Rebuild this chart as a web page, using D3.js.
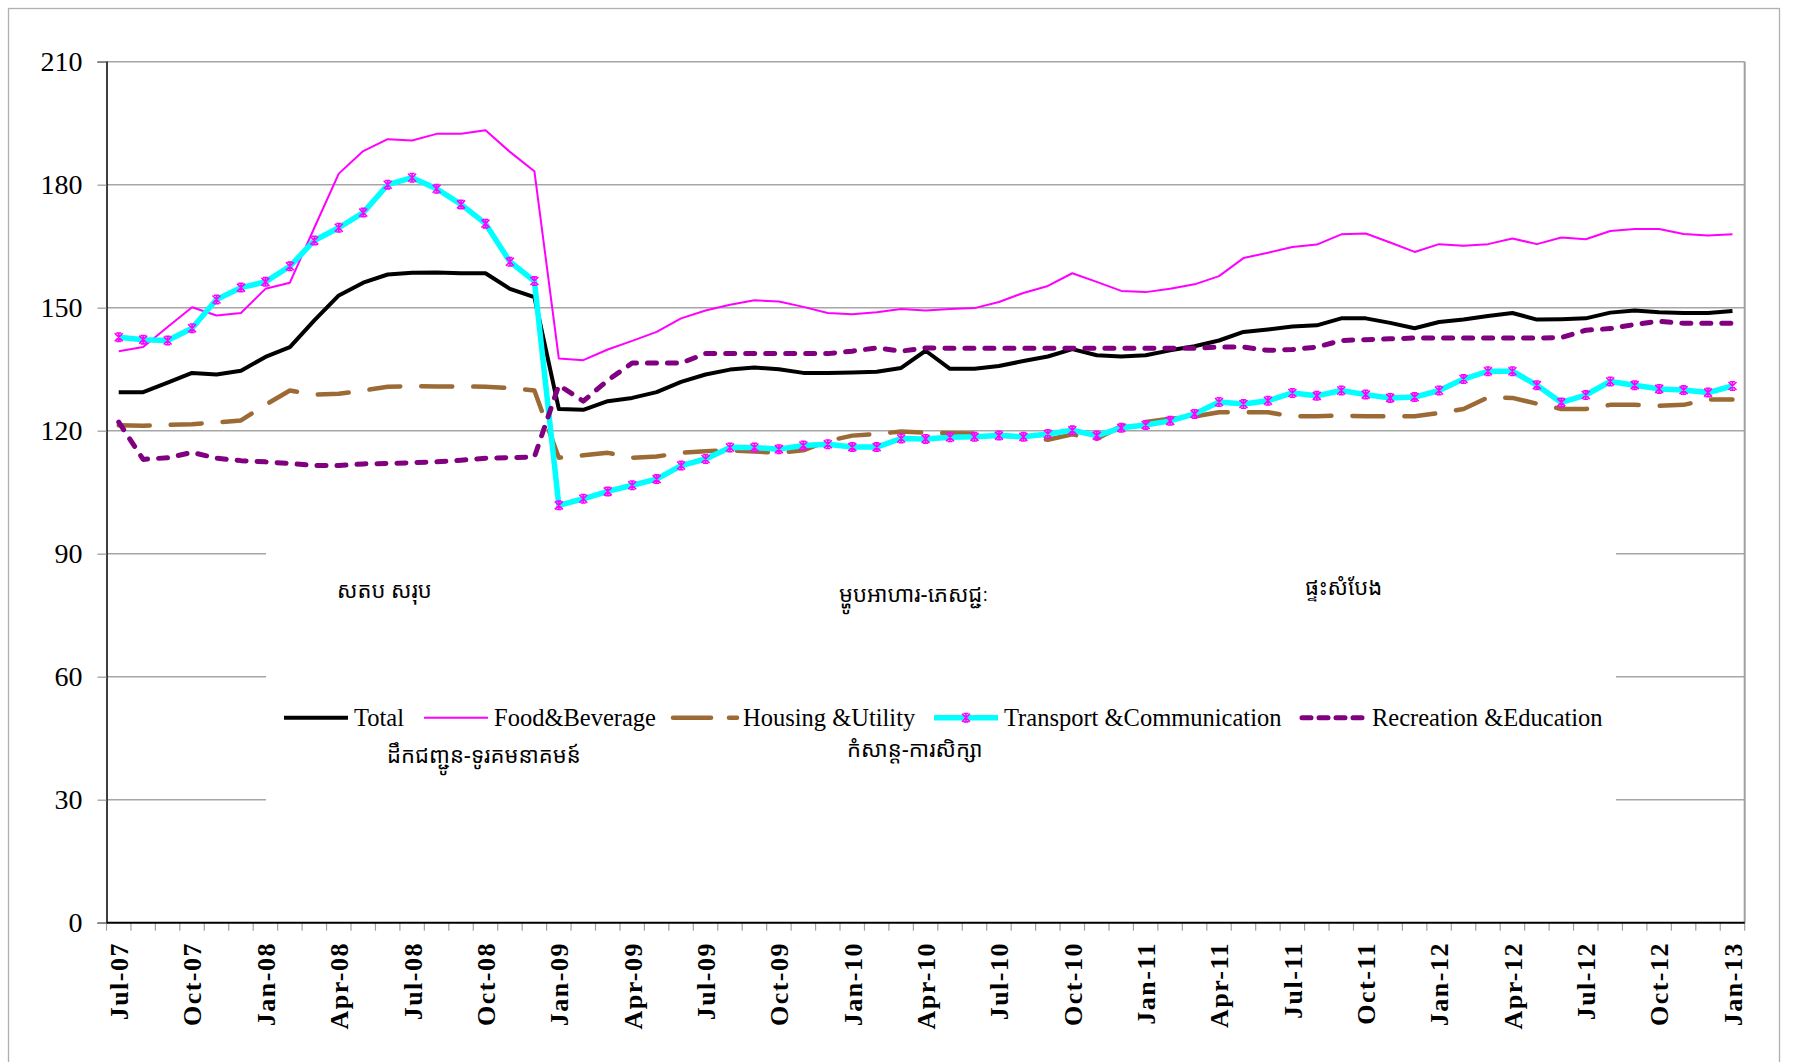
<!DOCTYPE html>
<html>
<head>
<meta charset="utf-8">
<script src="https://cdn.jsdelivr.net/npm/d3@7.9.0/dist/d3.min.js"></script>
<style>
  body { margin: 0; background: #fff; }
  svg text { font-family: "Liberation Serif", "Times New Roman", serif; fill: #000; }
  .km { font-family: "Noto Sans Khmer", "Khmer OS", "Khmer OS System", "Noto Sans", sans-serif; }
</style>
</head>
<body>
<svg id="chart" width="1793" height="1062"></svg>
<script>
// CPI by group, Jul-07 .. Jan-13 (monthly)
const total = [129.4,129.4,131.7,134.1,133.7,134.6,138.0,140.4,146.9,153.0,156.1,158.1,158.5,158.6,158.4,158.4,154.6,
  152.6,125.3,125.1,127.2,128.0,129.4,131.9,133.7,134.9,135.4,135.0,134.1,134.1,134.2,134.4,135.3,139.5,
  135.1,135.1,135.8,137.0,138.1,139.9,138.4,138.1,138.4,139.6,140.6,142.0,144.1,144.7,145.4,145.7,147.4,
  147.4,146.3,145.0,146.5,147.1,148.0,148.7,147.1,147.2,147.4,148.8,149.3,148.9,148.7,148.7,149.2];
const food = [139.4,140.4,145.3,150.1,148.1,148.7,154.6,156.1,169.5,182.7,188.2,191.1,190.8,192.4,192.4,193.3,188.0,
  183.3,137.6,137.2,139.8,141.9,144.1,147.4,149.3,150.7,151.8,151.5,150.2,148.7,148.4,148.9,149.7,149.3,
  149.7,149.9,151.4,153.6,155.3,158.4,156.3,154.1,153.8,154.6,155.7,157.7,162.1,163.4,164.8,165.4,167.9,
  168.1,165.9,163.6,165.5,165.1,165.5,166.9,165.5,167.1,166.7,168.7,169.2,169.2,168.0,167.6,167.9];
const housing = [121.3,121.2,121.4,121.6,122.0,122.5,126.3,129.8,128.8,129.0,129.8,130.7,130.9,130.8,130.8,130.7,130.4,
  129.8,113.4,114.0,114.6,113.4,113.7,114.6,115.0,115.2,114.9,114.6,115.2,117.5,118.8,119.2,119.8,119.5,
  119.4,119.3,118.9,118.5,117.8,119.1,118.0,121.1,122.1,122.9,123.5,124.5,124.5,124.5,123.5,123.5,123.7,
  123.5,123.5,123.5,124.3,125.3,128.1,128.0,126.6,125.3,125.3,126.3,126.3,126.1,126.3,127.6,127.6];
const transport = [142.8,142.2,142.0,145.0,152.0,154.9,156.3,160.1,166.4,169.5,173.2,180.0,181.7,179.0,175.2,170.5,161.2,
  156.5,101.8,103.4,105.2,106.7,108.2,111.5,113.1,115.9,115.9,115.5,116.4,116.7,116.0,116.0,118.1,118.0,
  118.4,118.5,118.8,118.5,119.2,120.1,118.8,120.7,121.4,122.4,124.1,127.0,126.5,127.3,129.2,128.5,129.8,
  128.8,128.0,128.2,129.8,132.6,134.5,134.5,131.1,126.9,128.7,132.0,131.1,130.2,129.9,129.3,130.9];
const recreation = [122.1,113.0,113.4,114.7,113.3,112.7,112.4,112.0,111.5,111.5,111.9,112.0,112.2,112.4,112.8,113.3,113.4,
  113.6,131.1,127.2,132.3,136.5,136.5,136.5,138.8,138.8,138.8,138.8,138.8,138.8,139.4,140.2,139.4,140.2,
  140.1,140.1,140.1,140.1,140.1,140.1,140.1,140.1,140.1,140.1,140.1,140.4,140.4,139.6,139.8,140.4,142.0,
  142.2,142.4,142.6,142.6,142.6,142.6,142.6,142.6,142.7,144.5,144.9,145.9,146.7,146.2,146.2,146.2];

const tickLabels = ['Jul-07','Oct-07','Jan-08','Apr-08','Jul-08','Oct-08','Jan-09','Apr-09','Jul-09','Oct-09',
  'Jan-10','Apr-10','Jul-10','Oct-10','Jan-11','Apr-11','Jul-11','Oct-11','Jan-12','Apr-12','Jul-12','Oct-12','Jan-13'];
const yTicks = [0, 30, 60, 90, 120, 150, 180, 210];

const seriesNames = ['Total', 'Food&Beverage', 'Housing &Utility', 'Transport &Communication', 'Recreation &Education'];
const khmerLabels = ['សតប សរុប', 'ម្ហូបអាហារ-ភេសជ្ជៈ', 'ផ្ទះសំបែង', 'ដឹកជញ្ជូន-ទូរគមនាគមន៍', 'កំសាន្ត-ការសិក្សា'];

// months as categories
const months = d3.timeMonths(new Date(2007, 6, 1), new Date(2013, 1, 1)).map(d3.timeFormat('%b-%y'));

const svg = d3.select('#chart');

// outer chart frame
svg.append('rect').attr('x', 8.5).attr('y', 8.5).attr('width', 1771).attr('height', 1070)
  .attr('fill', 'none').attr('stroke', '#b0b0b0').attr('stroke-width', 1.3);

const plotL = 106.5, plotR = 1744.7, plotT = 61.7, plotB = 922.7;

let x = d3.scaleBand().domain(months).range([plotL, plotR]).padding(0);
let xc = (i) => x(months[i]) + x.bandwidth() / 2;
let y = d3.scaleLinear().domain([0, 210]).range([plotB, plotT]);

// gridlines
svg.append('g').selectAll('line').data(yTicks.filter(d => d > 0)).join('line')
  .attr('x1', plotL).attr('x2', plotR)
  .attr('y1', d => y(d)).attr('y2', d => y(d))
  .attr('stroke', '#a6a6a6').attr('stroke-width', 1.4);

// right border of plot area
svg.append('line').attr('x1', plotR).attr('x2', plotR).attr('y1', plotT).attr('y2', plotB)
  .attr('stroke', '#a0a0a0').attr('stroke-width', 2);

// legend box hides the gridlines behind it
svg.append('rect').attr('x', 266).attr('y', 520).attr('width', 1350).attr('height', 340).attr('fill', '#fff');

// y axis
let yAxis = d3.axisLeft(y).tickValues(yTicks).tickSize(9).tickPadding(15);
let gy = svg.append('g').attr('transform', `translate(${plotL},0)`).call(yAxis);
gy.select('.domain').attr('stroke', '#000').attr('stroke-width', 1.5);
gy.selectAll('.tick line').attr('stroke', '#a0a0a0').attr('stroke-width', 1.3);
gy.selectAll('.tick text').attr('font-size', 28).attr('font-family', '"Liberation Serif", serif');

// x axis: ticks at month boundaries, labels every quarter
let bounds = months.map((m) => x(m)).concat([plotR]);
svg.append('g').selectAll('line').data(bounds).join('line')
  .attr('x1', d => d).attr('x2', d => d).attr('y1', plotB).attr('y2', plotB + 8)
  .attr('stroke', '#a0a0a0').attr('stroke-width', 1.2);
svg.append('line').attr('x1', plotL).attr('x2', plotR).attr('y1', plotB).attr('y2', plotB)
  .attr('stroke', '#000').attr('stroke-width', 2);
svg.append('g').selectAll('text').data(tickLabels).join('text')
  .attr('transform', (d, i) => `translate(${xc(i * 3)},942) rotate(-90)`)
  .attr('text-anchor', 'end').attr('dy', '0.36em')
  .attr('font-size', 26).attr('font-weight', 'bold').attr('letter-spacing', 1.5)
  .text(d => d);

// series
const styles = [
  { data: total, color: '#000000', width: 4, dash: null },
  { data: food, color: '#ff00ff', width: 2, dash: null },
  { data: housing, color: '#9c6a34', width: 4.5, dash: '31,21' },
  { data: transport, color: '#00ffff', width: 5.5, dash: null, marker: true },
  { data: recreation, color: '#800080', width: 5, dash: '9,11' },
];

let line = d3.line().x((d, i) => xc(i)).y(d => y(d));
const starPath = 'M-4,-4L4,4M-4,4L4,-4M0,-4.5L0,4.5M-2.5,-4.2L2.5,-4.2M-2.5,4.2L2.5,4.2';

styles.forEach((s) => {
  svg.append('path').datum(s.data)
    .attr('d', line)
    .attr('fill', 'none')
    .attr('stroke', s.color)
    .attr('stroke-width', s.width)
    .attr('stroke-linejoin', 'round')
    .attr('stroke-linecap', s.dash ? 'round' : 'butt')
    .attr('stroke-dasharray', s.dash);
  if (s.marker) {
    svg.append('g').selectAll('path').data(s.data).join('path')
      .attr('transform', (d, i) => `translate(${xc(i)},${y(d)})`)
      .attr('d', starPath)
      .attr('stroke', '#ff00ff').attr('stroke-width', 1.6).attr('fill', 'none');
  }
});

// legend
const legendX = [284, 424, 673, 934, 1302];
const legendY = 717.7;
styles.forEach((s, idx) => {
  let g = svg.append('g');
  g.append('line').attr('x1', legendX[idx]).attr('x2', legendX[idx] + 64)
    .attr('y1', legendY).attr('y2', legendY)
    .attr('stroke', s.color).attr('stroke-width', s.width)
    .attr('stroke-linecap', s.dash ? 'round' : 'butt')
    .attr('stroke-dasharray', s.dash ? (idx === 2 ? '38,18' : '9,8') : null);
  if (s.marker) {
    g.append('path').attr('transform', `translate(${legendX[idx] + 32},${legendY})`)
      .attr('d', starPath).attr('stroke', '#ff00ff').attr('stroke-width', 1.6).attr('fill', 'none');
  }
  g.append('text').attr('x', legendX[idx] + 70).attr('y', legendY).attr('dy', '0.35em')
    .attr('font-size', 24.5).text(seriesNames[idx]);
});

// Khmer captions placed inside the legend area
const khmerPos = [[337, 598], [839, 602], [1305, 595], [387, 763], [847, 757]];
khmerLabels.forEach((t, i) => {
  svg.append('text').attr('class', 'km')
    .attr('x', khmerPos[i][0]).attr('y', khmerPos[i][1])
    .attr('font-size', 22).text(t);
});
</script>
</body>
</html>
